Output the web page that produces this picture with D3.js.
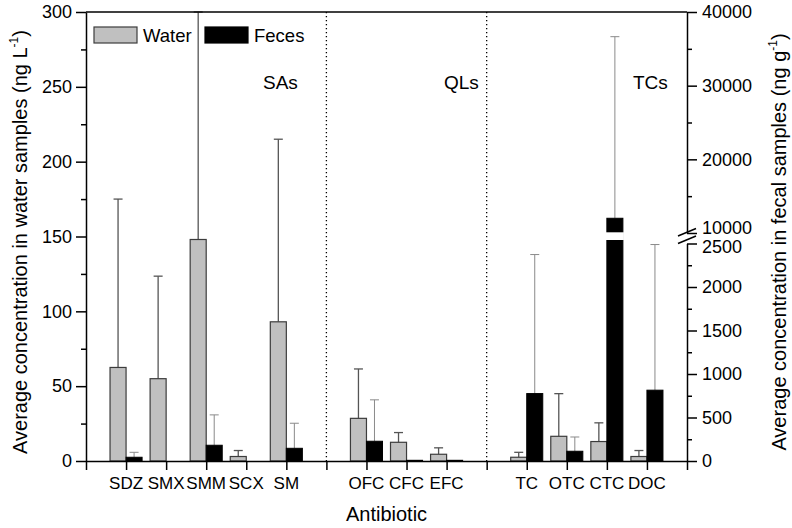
<!DOCTYPE html>
<html>
<head>
<meta charset="utf-8">
<script src="https://cdn.jsdelivr.net/npm/d3@7"></script>
<style>
  html, body { margin: 0; padding: 0; background: #fff; }
  svg { display: block; font-family: "Liberation Sans", Arial, sans-serif; }
</style>
</head>
<body>
<svg id="chart" width="792" height="528"></svg>
<script>
// ---------------- data ----------------
const categories = ["SDZ", "SMX", "SMM", "SCX", "SM", "OFC", "CFC", "EFC", "TC", "OTC", "CTC", "DOC"];
const categoryIndex = [1, 2, 3, 4, 5, 7, 8, 9, 11, 12, 13, 14];
const waterMean = [62.5, 55, 148, 3, 93, 28.5, 12.5, 4.5, 2.5, 16.5, 13, 3];
const waterErr  = [112.5, 68.5, 152, 4, 122, 33, 6.5, 4.3, 3.3, 28.5, 12.5, 4];
const fecesMean = [43, 0, 181, 0, 146, 227, 8, 8, 775, 112, 12000, 814];
const fecesErr  = [57, 0, 349, 0, 288, 476, 0, 0, 1598, 164, 24650, 1674];
const groupNames = ["SAs", "QLs", "TCs"];
const separators = [6, 10];
const leftTicks = [0, 50, 100, 150, 200, 250, 300];
const leftMinor = [25, 75, 125, 175, 225, 275];
const rightLowTicks = [0, 500, 1000, 1500, 2000, 2500];
const rightLowMinor = [250, 750, 1250, 1750, 2250];
const rightHighTicks = [10000, 20000, 30000, 40000];
const rightHighMinor = [15000, 25000, 35000];
const seriesNames = ["Water", "Feces"];

// ---------------- layout ----------------
const L = 86, R = 687, T = 12, B = 461;
const breakLow = 243.5, breakHigh = 233;
const svg = d3.select("#chart");

const x = d3.scaleLinear().domain([0, 15]).range([L, R]);
const yL = d3.scaleLinear().domain([0, 300]).range([B, T]);
const yRlow = d3.scaleLinear().domain([0, 2500]).range([B, breakLow]);
const yRhigh = d3.scaleLinear().domain([10000, 40000]).range([breakHigh, T]);
const yR = v => v <= 2500 ? yRlow(v) : (v >= 10000 ? yRhigh(v) : breakLow + (breakHigh - breakLow) * (v - 2500) / 7500);
const bw = x(0.4) - x(0);

const data = categories.map((c, i) => ({
  name: c, xi: categoryIndex[i],
  w: waterMean[i], we: waterErr[i],
  f: fecesMean[i], fe: fecesErr[i]
}));

// separators
svg.append("g").selectAll("line").data(separators).join("line")
  .attr("x1", d => x(d)).attr("x2", d => x(d))
  .attr("y1", T).attr("y2", B)
  .attr("stroke", "#000").attr("stroke-width", 1.3)
  .attr("stroke-dasharray", "1.3,2.7");

// error bars (behind bars)
const eb = svg.append("g");
data.forEach(d => {
  if (d.we > 0) {
    const cx = x(d.xi - 0.2);
    const yt = yL(Math.min(300, d.w + d.we));
    eb.append("line").attr("x1", cx).attr("x2", cx).attr("y1", yL(d.w)).attr("y2", yt)
      .attr("stroke", "#555").attr("stroke-width", 1.3);
    eb.append("line").attr("x1", cx - 4.5).attr("x2", cx + 4.5).attr("y1", yt).attr("y2", yt)
      .attr("stroke", "#555").attr("stroke-width", 1.3);
  }
  if (d.fe > 0) {
    const cx = x(d.xi + 0.2);
    const yt = yR(d.f + d.fe);
    eb.append("line").attr("x1", cx).attr("x2", cx).attr("y1", yR(d.f)).attr("y2", yt)
      .attr("stroke", "#8a8a8a").attr("stroke-width", 1);
    eb.append("line").attr("x1", cx - 4.5).attr("x2", cx + 4.5).attr("y1", yt).attr("y2", yt)
      .attr("stroke", "#8a8a8a").attr("stroke-width", 1);
  }
});

// bars
svg.append("g").selectAll("rect").data(data).join("rect")
  .attr("x", d => x(d.xi - 0.4)).attr("width", bw)
  .attr("y", d => yL(d.w)).attr("height", d => B - yL(d.w))
  .attr("fill", "#c0c0c0").attr("stroke", "#3c3c3c").attr("stroke-width", 1.2);
svg.append("g").selectAll("rect").data(data.filter(d => d.f > 0)).join("rect")
  .attr("x", d => x(d.xi)).attr("width", bw)
  .attr("y", d => yR(d.f)).attr("height", d => B - yR(d.f))
  .attr("fill", "#000").attr("stroke", "#000").attr("stroke-width", 1);
// break gap in bars above the axis break
svg.append("g").selectAll("rect").data(data.filter(d => d.f > 10000)).join("rect")
  .attr("x", d => x(d.xi) - 1).attr("width", bw + 2)
  .attr("y", 232.3).attr("height", 7.7).attr("fill", "#fff");

// axes
const fs = 18;
function styleAxis(g) {
  g.selectAll("path").attr("stroke", "#000").attr("stroke-width", 1.5);
  g.selectAll("line").attr("stroke", "#000").attr("stroke-width", 1.5);
  g.selectAll("text").attr("font-size", fs).attr("fill", "#000").attr("font-family", "'Liberation Sans', Arial, sans-serif");
}
// left
svg.append("g").attr("transform", `translate(${L},0)`)
  .call(d3.axisLeft(yL).tickValues(leftTicks).tickSize(10).tickSizeOuter(0).tickPadding(4))
  .call(styleAxis);
svg.append("g").attr("transform", `translate(${L},0)`)
  .call(d3.axisLeft(yL).tickValues(leftMinor).tickSize(5).tickSizeOuter(0).tickFormat(""))
  .call(styleAxis).call(g => g.select("path").remove());
// right
const rl = svg.append("g").attr("transform", `translate(${R},0)`)
  .call(d3.axisRight(yRlow).tickValues(rightLowTicks).tickSize(10).tickSizeOuter(0).tickPadding(5).tickFormat(d3.format("d")))
  .call(styleAxis);
rl.selectAll(".tick").filter(d => d === 2500).select("text").attr("dy", "0.5em");
svg.append("g").attr("transform", `translate(${R},0)`)
  .call(d3.axisRight(yRlow).tickValues(rightLowMinor).tickSize(5).tickSizeOuter(0).tickFormat(""))
  .call(styleAxis).call(g => g.select("path").remove());
const rh = svg.append("g").attr("transform", `translate(${R},0)`)
  .call(d3.axisRight(yRhigh).tickValues(rightHighTicks).tickSize(10).tickSizeOuter(0).tickPadding(5).tickFormat(d3.format("d")))
  .call(styleAxis);
rh.selectAll(".tick").filter(d => d === 10000).select("text").attr("dy", "0em");
svg.append("g").attr("transform", `translate(${R},0)`)
  .call(d3.axisRight(yRhigh).tickValues(rightHighMinor).tickSize(5).tickSizeOuter(0).tickFormat(""))
  .call(styleAxis).call(g => g.select("path").remove());
// break marks
const bm = svg.append("g").attr("stroke", "#000").attr("stroke-width", 1.5);
bm.append("line").attr("x1", R - 9).attr("y1", 236).attr("x2", R + 9).attr("y2", 228.5);
bm.append("line").attr("x1", R - 9).attr("y1", 243.5).attr("x2", R + 9).attr("y2", 236);
// bottom
svg.append("g").attr("transform", `translate(0,${B})`)
  .call(d3.axisBottom(x).tickValues(d3.range(0, 16)).tickSize(9).tickSizeOuter(0).tickFormat(""))
  .call(styleAxis);
// top frame
svg.append("line").attr("x1", L).attr("x2", R).attr("y1", T).attr("y2", T)
  .attr("stroke", "#000").attr("stroke-width", 1.3);

// category labels
svg.append("g").selectAll("text").data(data).join("text")
  .attr("x", d => x(d.xi)).attr("y", 488.5)
  .attr("text-anchor", "middle").attr("font-size", 17)
  .text(d => d.name);

// group labels
const groupPos = [[263, 89], [444, 89], [633, 89]];
svg.append("g").selectAll("text").data(groupNames).join("text")
  .attr("x", (d, i) => groupPos[i][0]).attr("y", (d, i) => groupPos[i][1])
  .attr("font-size", 19).text(d => d);

// legend
const lg = svg.append("g");
const legendPos = [94, 205];
seriesNames.forEach((s, i) => {
  lg.append("rect").attr("x", legendPos[i]).attr("y", 27).attr("width", 43).attr("height", 16)
    .attr("fill", i === 0 ? "#c0c0c0" : "#000").attr("stroke", i === 0 ? "#3c3c3c" : "#000").attr("stroke-width", 1.2);
  lg.append("text").attr("x", legendPos[i] + 49).attr("y", 41.5).attr("font-size", 18.5).text(s);
});

// axis titles
svg.append("text").attr("x", 386.5).attr("y", 521).attr("text-anchor", "middle")
  .attr("font-size", 20).text("Antibiotic");

const lt = svg.append("text").attr("transform", "translate(27,242) rotate(-90)")
  .attr("text-anchor", "middle").attr("font-size", 20);
lt.append("tspan").text("Average concentration in water samples (ng L");
lt.append("tspan").attr("font-size", 12).attr("dy", -9).text("-1");
lt.append("tspan").attr("dy", 9).text(")");

const rt = svg.append("text").attr("transform", "translate(786,242) rotate(-90)")
  .attr("text-anchor", "middle").attr("font-size", 20);
rt.append("tspan").text("Average concentration in fecal samples (ng g");
rt.append("tspan").attr("font-size", 12).attr("dy", -9).text("-1");
rt.append("tspan").attr("dy", 9).text(")");
</script>
</body>
</html>
